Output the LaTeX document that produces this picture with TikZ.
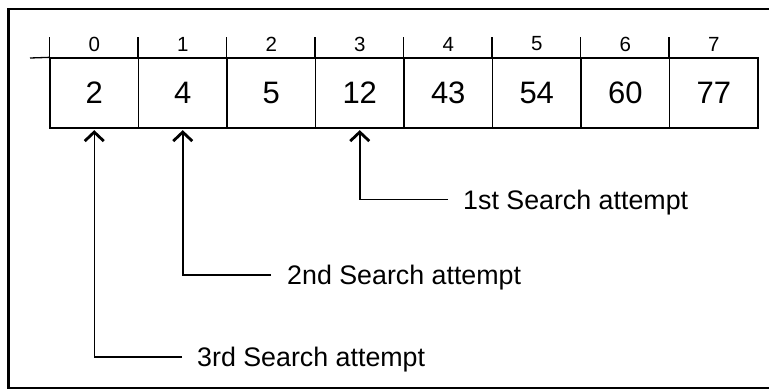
\documentclass[tikz,border=0pt]{standalone}
\usepackage{fontspec}
\setmainfont{Liberation Sans}
\usetikzlibrary{arrows.meta}
\tikzset{
  cell/.style={draw, line width=1.3pt, minimum width=88.5pt, minimum height=70pt, inner sep=0pt, font=\fontsize{31}{36}\selectfont},
  idx/.style={inner sep=0pt, font=\fontsize{20.5}{24}\selectfont},
  lbl/.style={inner sep=0pt, anchor=west, text height=19.2pt, text depth=0pt, font=\fontsize{26.8}{31}\selectfont},
  tick/.style={line width=1.3pt},
  frame/.style={line width=2.2pt},
  arr/.style={line width=1.5pt, -{Straight Barb[length=9pt,width=19pt,line width=2.8pt]}}
}
\begin{document}
\begin{tikzpicture}[x=1pt,y=-1pt]
\useasboundingbox (0,0) rectangle (769,389);
\fill[white] (0,0) rectangle (769,389);
% frame
\draw[frame] (771,9) -- (8.5,9) -- (8.5,387.8) -- (771,387.8);
% cells
\foreach \v [count=\i from 0] in {2,4,5,12,43,54,60,77} {
  \node[cell] (c\i) at ({94.25+88.5*\i},93) {\v};
  \node[idx] (n\i) at ({94.25+88.5*\i},44) {\i};
  \draw[tick] (c\i.north west) -- ++(0,-20);
}
\draw[tick] (30,58) coordinate (lstart) -- (c0.north west);
% labels
\node[lbl] (l1) at (463,199.5) {1st Search attempt};
\node[lbl] (l2) at (287,275) {2nd Search attempt};
\node[lbl] (l3) at (197,357) {3rd Search attempt};
% connectors
\draw[arr] ([xshift=-15pt]l1.west) -| ([yshift=-1.5pt]c3.south);
\draw[arr] ([xshift=-16pt]l2.west) -| ([yshift=-1.5pt]c1.south);
\draw[arr] ([xshift=-15pt]l3.west) -| ([yshift=-1.5pt]c0.south);
\end{tikzpicture}
\end{document}
